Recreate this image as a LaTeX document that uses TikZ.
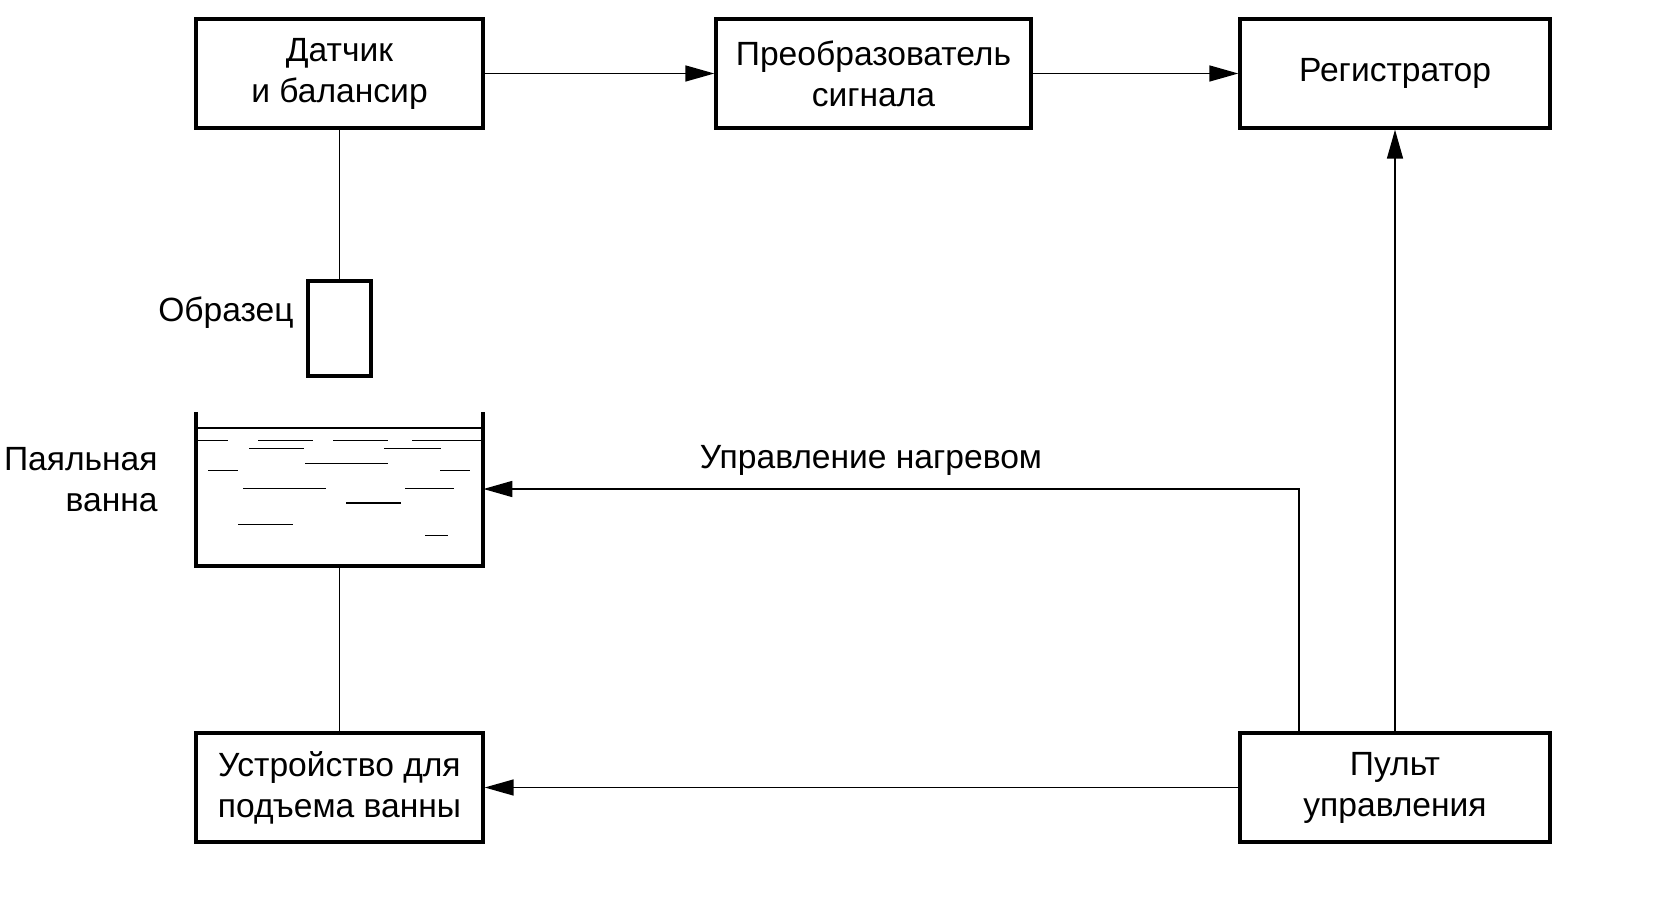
\documentclass[tikz,border=0pt]{standalone}
\usepackage{fontspec}
\setmainfont{Liberation Sans}
\usetikzlibrary{arrows.meta}

\tikzset{
  blok/.style={draw, line width=1.7pt, inner sep=0pt, align=center, minimum height=54.5pt},
  arr/.style={line width=0.8pt, -{Triangle[length=14.5pt,width=8pt]}},
  wire/.style={line width=0.8pt},
  water/.style={line width=0.9pt}
}

\begin{document}
\begin{tikzpicture}[x=0.5pt, y=-0.5pt, font=\fontsize{16.8}{20.5}\selectfont]
		\useasboundingbox (0,0) rectangle (1654,903);

		 	\node[blok, minimum width=143.5pt] (sensor) at (339.5, 73.5){Датчик\\и балансир};
		 	\node[blok, minimum width=157.5pt] (conv) at (873.5, 73.5){Преобразователь\\сигнала};
		 	\node[blok, minimum width=155pt] (reg) at (1395, 73.5){Регистратор};

		 	\node[blok, minimum width=31.5pt, minimum height=47.5pt] (sample) at (339.5, 328.5){};
		 	\node[anchor=base east, inner sep=0pt] (samplelbl) at (294, 322){Образец};

		 	\node[blok, minimum width=143.5pt] (lift) at (339.5, 787.5){Устройство для\\подъема ванны};
		 	\node[blok, minimum width=155pt] (panel) at (1395, 787.5){Пульт\\управления};

			 % bath
			 \node[inner sep=0pt, minimum width=143.5pt, minimum height=77pt] (bath) at (339.5, 489){};
			 \draw[line width=1.7pt] (196, 412) to (196, 566) to (483, 566) to (483, 412);
			 \draw[line width=1.1pt] (196, 428) to (483, 428);
				 \draw[water] (197, 440.5) to (228, 440.5);
				 \draw[water] (258, 440.5) to (313, 440.5);
				 \draw[water] (333, 440.5) to (388, 440.5);
				 \draw[water] (412, 440.5) to (481, 440.5);
				 \draw[water] (249, 448.5) to (304, 448.5);
				 \draw[water] (384, 448.5) to (441, 448.5);
				 \draw[water] (305, 463.5) to (388, 463.5);
				 \draw[water] (208, 470.5) to (238, 470.5);
				 \draw[water] (440, 470.5) to (470, 470.5);
				 \draw[water] (243, 488.5) to (326, 488.5);
				 \draw[water] (405, 488.5) to (454, 488.5);
				 \draw[water] (346, 503) to (401, 503);
				 \draw[water] (238, 524.5) to (293, 524.5);
				 \draw[water] (425, 535.5) to (448, 535.5);
			 \node[anchor=east, inner sep=0pt, align=right] (bathlbl) at (158, 480){Паяльная\\ванна};

			 % connections
			 \draw[arr] (sensor) to (conv);
			 \draw[arr] (conv) to (reg);
			 \draw[wire] (sensor.south) to (sample.north);
			 \draw[wire] (bath.south) to (lift.north);
			 \draw[arr] (panel) to (lift);
			 \draw[arr] (panel.north) to (reg.south);
			 \draw[arr] ([xshift=-48pt]panel.north) |- (bath.east);
			 \node (heatlbl) at (871, 460){Управление нагревом};

		\end{tikzpicture}
\end{document}
